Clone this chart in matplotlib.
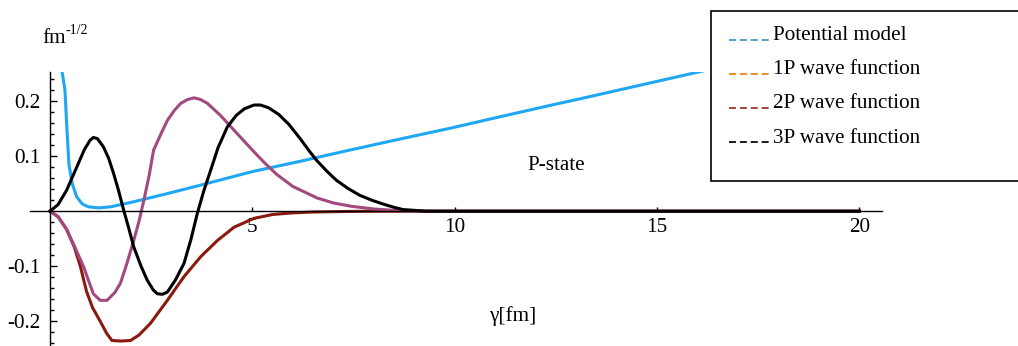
import numpy as np
import matplotlib
matplotlib.use("Agg")
import matplotlib.pyplot as plt
from matplotlib.ticker import MultipleLocator, FixedLocator, FixedFormatter
from matplotlib.patches import Rectangle
from matplotlib.lines import Line2D

FONT_SIZE = 15.2

matplotlib.rcParams['font.family'] = ['Liberation Serif', 'DejaVu Serif']
matplotlib.rcParams['axes.unicode_minus'] = False
matplotlib.rcParams.update({'font.size': FONT_SIZE})

# potential model
r_pot = [0.25, 0.30, 0.37, 0.42, 0.47, 0.55, 0.66, 0.80, 0.95, 1.2, 1.5, 2.0, 2.9,
         3.7, 5.0, 6.2, 7.4, 8.7, 9.9, 11.2, 12.4, 13.2, 16.2, 17.0]
v_pot = [0.30, 0.253, 0.22, 0.147, 0.084, 0.05, 0.026, 0.013, 0.008, 0.006, 0.008,
         0.016, 0.032, 0.047, 0.072, 0.091, 0.111, 0.132, 0.151, 0.173, 0.193,
         0.206, 0.256, 0.27]

# 1P wave function
r_1p = [0, 0.2, 0.41, 0.6, 0.75, 0.9, 1.05, 1.24, 1.4, 1.53, 1.75, 1.99, 2.2,
        2.48, 2.9, 3.31, 3.72, 4.14, 4.55, 5.04, 5.5, 6.0, 6.5, 7.3, 8.0, 20]
u_1p = [0, -0.01, -0.033, -0.065, -0.1, -0.145, -0.175, -0.2, -0.222, -0.235,
        -0.236, -0.235, -0.225, -0.204, -0.162, -0.119, -0.083, -0.053, -0.029,
        -0.013, -0.006, -0.003, -0.0015, -0.0005, 0, 0]

# 2P wave function
r_2p = [0, 0.2, 0.41, 0.6, 0.83, 1.07, 1.24, 1.41, 1.6, 1.74, 1.9, 2.07, 2.2,
        2.32, 2.45, 2.56, 2.75, 2.9, 3.07, 3.23, 3.4, 3.56, 3.72, 3.89, 4.2,
        4.55, 4.8, 5.04, 5.3, 5.6, 6.0, 6.6, 7.0, 7.44, 8.0, 8.6, 9.2, 20]
u_2p = [0, -0.01, -0.033, -0.063, -0.101, -0.15, -0.162, -0.162, -0.148, -0.131,
        -0.095, -0.053, -0.018, 0.02, 0.065, 0.111, 0.142, 0.165, 0.183, 0.196,
        0.203, 0.206, 0.203, 0.196, 0.175, 0.147, 0.127, 0.108, 0.088, 0.067,
        0.045, 0.024, 0.015, 0.009, 0.004, 0.001, 0, 0]

# 3P wave function
r_3p = [0, 0.2, 0.41, 0.66, 0.85, 0.99, 1.07, 1.17, 1.32, 1.45, 1.57, 1.7, 1.82,
        1.95, 2.07, 2.25, 2.4, 2.55, 2.65, 2.78, 2.9, 3.1, 3.31, 3.48, 3.64, 3.8,
        3.97, 4.15, 4.38, 4.6, 4.8, 5.04, 5.2, 5.4, 5.65, 5.9, 6.17, 6.4, 6.58,
        6.85, 7.08, 7.35, 7.65, 7.95, 8.23, 8.5, 8.72, 9.3, 20]
u_3p = [0, 0.012, 0.038, 0.08, 0.112, 0.129, 0.134, 0.132, 0.117, 0.096, 0.069,
        0.036, 0.002, -0.032, -0.065, -0.1, -0.125, -0.143, -0.15, -0.151, -0.147,
        -0.125, -0.095, -0.052, -0.004, 0.037, 0.0745, 0.115, 0.153, 0.174, 0.186,
        0.193, 0.193, 0.188, 0.176, 0.158, 0.133, 0.11, 0.093, 0.072, 0.056,
        0.042, 0.029, 0.02, 0.013, 0.007, 0.003, 0, 0]

x_ticks = [5, 10, 15, 20]
x_labels = ["5", "10", "15", "20"]
y_ticks = [-0.2, -0.1, 0.1, 0.2]
y_labels = ["-0.2", "-0.1", "0.1", "0.2"]

legend_labels = ["Potential model", "1P wave function", "2P wave function", "3P wave function"]
legend_colors = ['#4fa3c6', '#f08a2c', '#a8443e', '#1a1a1a']

W, H = 1018, 346
fig = plt.figure(figsize=(W / 100, H / 100), dpi=100)
ax = fig.add_axes([29.75 / W, 0, 852 / W, 274 / H])

lw = 2.2
ax.plot(r_pot, v_pot, color='#1ea7f2', lw=lw)
ax.plot(r_1p, u_1p, color='#8a1a0e', lw=lw)
ax.plot(r_2p, u_2p, color='#a24a80', lw=lw)
ax.plot(r_3p, u_3p, color='black', lw=lw)

ax.set_xlim(-0.5, 20.55)
ax.set_ylim(-0.245, 0.253)

# axes cross at origin
for s in ['top', 'right']:
	ax.spines[s].set_visible(False)
ax.spines['left'].set_position(('data', 0))
ax.spines['bottom'].set_position(('data', 0))
ax.spines['left'].set_linewidth(1.0)
ax.spines['bottom'].set_linewidth(1.0)

ax.xaxis.set_major_locator(FixedLocator(x_ticks))
ax.xaxis.set_major_formatter(FixedFormatter(x_labels))
ax.yaxis.set_major_locator(FixedLocator(y_ticks))
ax.yaxis.set_major_formatter(FixedFormatter(y_labels))
ax.yaxis.set_minor_locator(MultipleLocator(0.02))
ax.tick_params(axis='y', which='major', direction='in', length=5, width=1, pad=7)
ax.tick_params(axis='y', which='minor', direction='in', length=3, width=1)
ax.tick_params(axis='x', which='major', direction='in', length=3, width=1, pad=5)
ax.patch.set_alpha(0)

ax.text(12.5, 0.083, "P-state", ha='center', va='center')
ax.text(11.45, -0.191, "γ[fm]", ha='center', va='center')

# overlay in pixel units for the labels and legend box
ov = fig.add_axes([0, 0, 1, 1], zorder=5)
ov.set_xlim(0, W)
ov.set_ylim(H, 0)
ov.axis('off')
ov.patch.set_alpha(0)

ov.text(42, 43, "fm", ha='left', va='baseline', fontsize=FONT_SIZE)
ov.text(65.5, 34, "-1/2", ha='left', va='baseline', fontsize=10)

ov.add_patch(Rectangle((711, 11), 330, 170, facecolor='white', edgecolor='black',
                       lw=1.2, clip_on=False))
for i, (lab, col) in enumerate(zip(legend_labels, legend_colors)):
	y = 40 + i * 34.2
	ov.add_line(Line2D([729, 772], [y - 0.5, y - 0.5], color=col, lw=1.4,
	                   linestyle=(0, (3.6, 2.0))))
	ov.text(773, y, lab, ha='left', va='baseline', fontsize=FONT_SIZE)

plt.savefig("out.png", dpi=100)
